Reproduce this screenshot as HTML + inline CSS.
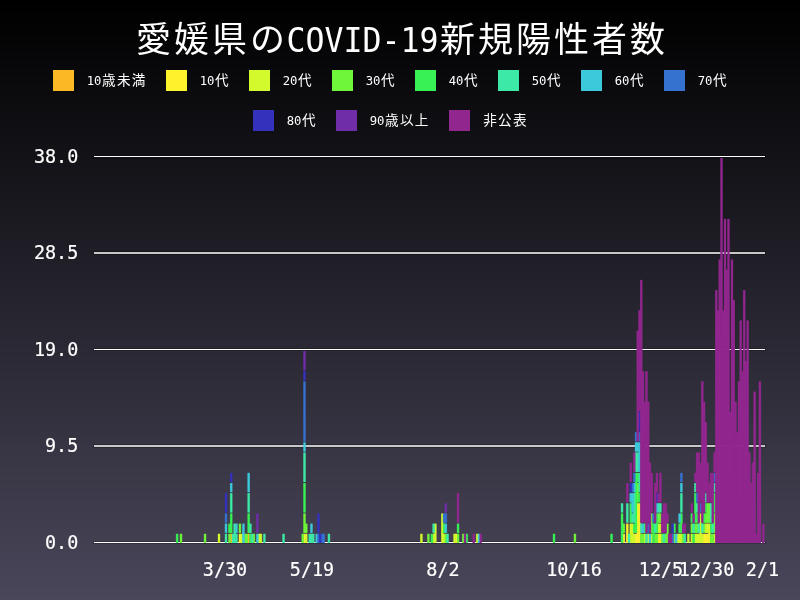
<!DOCTYPE html>
<html lang="ja"><head><meta charset="utf-8"><title>愛媛県のCOVID-19新規陽性者数</title>
<style>html,body{margin:0;padding:0;background:#000;overflow:hidden}svg{display:block}</style></head>
<body>
<svg width="800" height="600" viewBox="0 0 800 600">
<defs><linearGradient id="bg" x1="0" y1="0" x2="0" y2="1"><stop offset="0" stop-color="#000000"/><stop offset="1" stop-color="#4a465a"/></linearGradient></defs>
<rect width="800" height="600" fill="url(#bg)"/>
<g shape-rendering="crispEdges"><rect y="0" width="800" height="4" fill="#000000"/><rect y="4" width="800" height="1" fill="#000001"/><rect y="5" width="800" height="5" fill="#010101"/><rect y="10" width="800" height="3" fill="#010102"/><rect y="13" width="800" height="4" fill="#020202"/><rect y="17" width="800" height="4" fill="#020203"/><rect y="21" width="800" height="1" fill="#030203"/><rect y="22" width="800" height="2" fill="#030303"/><rect y="24" width="800" height="5" fill="#030304"/><rect y="29" width="800" height="1" fill="#040304"/><rect y="30" width="800" height="7" fill="#040405"/><rect y="37" width="800" height="2" fill="#050406"/><rect y="39" width="800" height="5" fill="#050506"/><rect y="44" width="800" height="1" fill="#050507"/><rect y="45" width="800" height="3" fill="#060507"/><rect y="48" width="800" height="2" fill="#060607"/><rect y="50" width="800" height="3" fill="#060608"/><rect y="53" width="800" height="3" fill="#070608"/><rect y="56" width="800" height="1" fill="#070708"/><rect y="57" width="800" height="4" fill="#070709"/><rect y="61" width="800" height="3" fill="#080709"/><rect y="64" width="800" height="1" fill="#08070a"/><rect y="65" width="800" height="4" fill="#08080a"/><rect y="69" width="800" height="1" fill="#09080a"/><rect y="70" width="800" height="3" fill="#09080b"/><rect y="73" width="800" height="4" fill="#09090b"/><rect y="77" width="800" height="5" fill="#0a090c"/><rect y="82" width="800" height="2" fill="#0a0a0c"/><rect y="84" width="800" height="1" fill="#0a0a0d"/><rect y="85" width="800" height="5" fill="#0b0a0d"/><rect y="90" width="800" height="4" fill="#0b0b0e"/><rect y="94" width="800" height="3" fill="#0c0b0e"/><rect y="97" width="800" height="2" fill="#0c0b0f"/><rect y="99" width="800" height="3" fill="#0c0c0f"/><rect y="102" width="800" height="2" fill="#0d0c0f"/><rect y="104" width="800" height="3" fill="#0d0c10"/><rect y="107" width="800" height="3" fill="#0d0d10"/><rect y="110" width="800" height="6" fill="#0e0d11"/><rect y="116" width="800" height="1" fill="#0e0e11"/><rect y="117" width="800" height="1" fill="#0e0e12"/><rect y="118" width="800" height="6" fill="#0f0e12"/><rect y="124" width="800" height="1" fill="#0f0e13"/><rect y="125" width="800" height="1" fill="#0f0f13"/><rect y="126" width="800" height="4" fill="#100f13"/><rect y="130" width="800" height="3" fill="#100f14"/><rect y="133" width="800" height="1" fill="#101014"/><rect y="134" width="800" height="3" fill="#111014"/><rect y="137" width="800" height="5" fill="#111015"/><rect y="142" width="800" height="2" fill="#121115"/><rect y="144" width="800" height="6" fill="#121116"/><rect y="150" width="800" height="7" fill="#131217"/><rect y="157" width="800" height="1" fill="#131218"/><rect y="158" width="800" height="1" fill="#141218"/><rect y="159" width="800" height="5" fill="#141318"/><rect y="164" width="800" height="2" fill="#141319"/><rect y="166" width="800" height="1" fill="#151319"/><rect y="167" width="800" height="3" fill="#151419"/><rect y="170" width="800" height="5" fill="#15141a"/><rect y="175" width="800" height="1" fill="#16141a"/><rect y="176" width="800" height="1" fill="#16151a"/><rect y="177" width="800" height="6" fill="#16151b"/><rect y="183" width="800" height="1" fill="#17151b"/><rect y="184" width="800" height="6" fill="#17161c"/><rect y="190" width="800" height="1" fill="#17161d"/><rect y="191" width="800" height="2" fill="#18161d"/><rect y="193" width="800" height="4" fill="#18171d"/><rect y="197" width="800" height="2" fill="#18171e"/><rect y="199" width="800" height="3" fill="#19171e"/><rect y="202" width="800" height="1" fill="#19181e"/><rect y="203" width="800" height="4" fill="#19181f"/><rect y="207" width="800" height="3" fill="#1a181f"/><rect y="210" width="800" height="5" fill="#1a1920"/><rect y="215" width="800" height="2" fill="#1b1920"/><rect y="217" width="800" height="2" fill="#1b1921"/><rect y="219" width="800" height="4" fill="#1b1a21"/><rect y="223" width="800" height="4" fill="#1c1a22"/><rect y="227" width="800" height="3" fill="#1c1b22"/><rect y="230" width="800" height="1" fill="#1c1b23"/><rect y="231" width="800" height="5" fill="#1d1b23"/><rect y="236" width="800" height="1" fill="#1d1c23"/><rect y="237" width="800" height="2" fill="#1d1c24"/><rect y="239" width="800" height="4" fill="#1e1c24"/><rect y="243" width="800" height="1" fill="#1e1c25"/><rect y="244" width="800" height="3" fill="#1e1d25"/><rect y="247" width="800" height="3" fill="#1f1d25"/><rect y="250" width="800" height="3" fill="#1f1d26"/><rect y="253" width="800" height="2" fill="#1f1e26"/><rect y="255" width="800" height="2" fill="#201e26"/><rect y="257" width="800" height="4" fill="#201e27"/><rect y="261" width="800" height="2" fill="#201f27"/><rect y="263" width="800" height="1" fill="#201f28"/><rect y="264" width="800" height="6" fill="#211f28"/><rect y="270" width="800" height="2" fill="#212029"/><rect y="272" width="800" height="5" fill="#222029"/><rect y="277" width="800" height="2" fill="#22202a"/><rect y="279" width="800" height="1" fill="#22212a"/><rect y="280" width="800" height="3" fill="#23212a"/><rect y="283" width="800" height="4" fill="#23212b"/><rect y="287" width="800" height="1" fill="#23222b"/><rect y="288" width="800" height="2" fill="#24222b"/><rect y="290" width="800" height="6" fill="#24222c"/><rect y="296" width="800" height="1" fill="#25232c"/><rect y="297" width="800" height="6" fill="#25232d"/><rect y="303" width="800" height="1" fill="#25232e"/><rect y="304" width="800" height="6" fill="#26242e"/><rect y="310" width="800" height="2" fill="#26242f"/><rect y="312" width="800" height="1" fill="#27242f"/><rect y="313" width="800" height="4" fill="#27252f"/><rect y="317" width="800" height="3" fill="#272530"/><rect y="320" width="800" height="1" fill="#282530"/><rect y="321" width="800" height="2" fill="#282630"/><rect y="323" width="800" height="5" fill="#282631"/><rect y="328" width="800" height="2" fill="#292631"/><rect y="330" width="800" height="6" fill="#292732"/><rect y="336" width="800" height="1" fill="#2a2732"/><rect y="337" width="800" height="2" fill="#2a2733"/><rect y="339" width="800" height="4" fill="#2a2833"/><rect y="343" width="800" height="2" fill="#2a2834"/><rect y="345" width="800" height="2" fill="#2b2834"/><rect y="347" width="800" height="3" fill="#2b2934"/><rect y="350" width="800" height="3" fill="#2b2935"/><rect y="353" width="800" height="3" fill="#2c2935"/><rect y="356" width="800" height="1" fill="#2c2a35"/><rect y="357" width="800" height="4" fill="#2c2a36"/><rect y="361" width="800" height="2" fill="#2d2a36"/><rect y="363" width="800" height="1" fill="#2d2a37"/><rect y="364" width="800" height="5" fill="#2d2b37"/><rect y="369" width="800" height="1" fill="#2e2b37"/><rect y="370" width="800" height="3" fill="#2e2b38"/><rect y="373" width="800" height="4" fill="#2e2c38"/><rect y="377" width="800" height="4" fill="#2f2c39"/><rect y="381" width="800" height="2" fill="#2f2d39"/><rect y="383" width="800" height="2" fill="#2f2d3a"/><rect y="385" width="800" height="5" fill="#302d3a"/><rect y="390" width="800" height="3" fill="#302e3b"/><rect y="393" width="800" height="4" fill="#312e3b"/><rect y="397" width="800" height="1" fill="#312e3c"/><rect y="398" width="800" height="3" fill="#312f3c"/><rect y="401" width="800" height="2" fill="#322f3c"/><rect y="403" width="800" height="4" fill="#322f3d"/><rect y="407" width="800" height="2" fill="#32303d"/><rect y="409" width="800" height="1" fill="#33303d"/><rect y="410" width="800" height="6" fill="#33303e"/><rect y="416" width="800" height="1" fill="#33313f"/><rect y="417" width="800" height="6" fill="#34313f"/><rect y="423" width="800" height="1" fill="#343140"/><rect y="424" width="800" height="1" fill="#343240"/><rect y="425" width="800" height="5" fill="#353240"/><rect y="430" width="800" height="3" fill="#353241"/><rect y="433" width="800" height="1" fill="#353341"/><rect y="434" width="800" height="2" fill="#363341"/><rect y="436" width="800" height="5" fill="#363342"/><rect y="441" width="800" height="1" fill="#363442"/><rect y="442" width="800" height="1" fill="#373442"/><rect y="443" width="800" height="7" fill="#373443"/><rect y="450" width="800" height="6" fill="#383544"/><rect y="456" width="800" height="2" fill="#383545"/><rect y="458" width="800" height="5" fill="#393645"/><rect y="463" width="800" height="3" fill="#393646"/><rect y="466" width="800" height="1" fill="#3a3646"/><rect y="467" width="800" height="3" fill="#3a3746"/><rect y="470" width="800" height="4" fill="#3a3747"/><rect y="474" width="800" height="1" fill="#3b3747"/><rect y="475" width="800" height="1" fill="#3b3847"/><rect y="476" width="800" height="6" fill="#3b3848"/><rect y="482" width="800" height="1" fill="#3c3848"/><rect y="483" width="800" height="1" fill="#3c3849"/><rect y="484" width="800" height="6" fill="#3c3949"/><rect y="490" width="800" height="3" fill="#3d394a"/><rect y="493" width="800" height="3" fill="#3d3a4a"/><rect y="496" width="800" height="2" fill="#3d3a4b"/><rect y="498" width="800" height="3" fill="#3e3a4b"/><rect y="501" width="800" height="2" fill="#3e3b4b"/><rect y="503" width="800" height="3" fill="#3e3b4c"/><rect y="506" width="800" height="4" fill="#3f3b4c"/><rect y="510" width="800" height="5" fill="#3f3c4d"/><rect y="515" width="800" height="1" fill="#403c4d"/><rect y="516" width="800" height="2" fill="#403c4e"/><rect y="518" width="800" height="5" fill="#403d4e"/><rect y="523" width="800" height="4" fill="#413d4f"/><rect y="527" width="800" height="3" fill="#413e4f"/><rect y="530" width="800" height="1" fill="#413e50"/><rect y="531" width="800" height="4" fill="#423e50"/><rect y="535" width="800" height="1" fill="#423f50"/><rect y="536" width="800" height="3" fill="#423f51"/><rect y="539" width="800" height="4" fill="#433f51"/><rect y="543" width="800" height="1" fill="#433f52"/><rect y="544" width="800" height="3" fill="#434052"/><rect y="547" width="800" height="3" fill="#444052"/><rect y="550" width="800" height="2" fill="#444053"/><rect y="552" width="800" height="3" fill="#444153"/><rect y="555" width="800" height="1" fill="#454153"/><rect y="556" width="800" height="5" fill="#454154"/><rect y="561" width="800" height="2" fill="#454254"/><rect y="563" width="800" height="7" fill="#464255"/><rect y="570" width="800" height="1" fill="#464356"/><rect y="571" width="800" height="5" fill="#474356"/><rect y="576" width="800" height="2" fill="#474357"/><rect y="578" width="800" height="1" fill="#474457"/><rect y="579" width="800" height="4" fill="#484457"/><rect y="583" width="800" height="4" fill="#484458"/><rect y="587" width="800" height="3" fill="#494558"/><rect y="590" width="800" height="5" fill="#494559"/><rect y="595" width="800" height="1" fill="#4a4659"/><rect y="596" width="800" height="4" fill="#4a465a"/></g>
<text x="136.02 174.02 212.02 250.02" y="52.00" font-family='"Noto Sans CJK JP","IPAGothic",sans-serif' font-size="34.96" font-weight="400" fill="#fff">愛媛県の</text>
<text x="286.50" y="52.00" font-family='"DejaVu Sans Mono","Liberation Mono",monospace' font-size="33.63" textLength="152.00" lengthAdjust="spacingAndGlyphs" fill="#fff">COVID-19</text>
<text x="440.02 478.02 516.02 554.02 592.02 630.02" y="52.00" font-family='"Noto Sans CJK JP","IPAGothic",sans-serif' font-size="34.96" font-weight="400" fill="#fff">新規陽性者数</text>
<rect x="53" y="70" width="21" height="21" fill="#FDB924"/><text x="86.70" y="84.60" font-family='"DejaVu Sans Mono","Liberation Mono",monospace' font-size="13.10" textLength="14.80" lengthAdjust="spacingAndGlyphs" fill="#fff">10</text>
<text x="102.09 116.89 131.69" y="84.60" font-family='"Noto Sans CJK JP","IPAGothic",sans-serif' font-size="13.62" font-weight="400" fill="#fff">歳未満</text>
<rect x="166" y="70" width="21" height="21" fill="#FEF22C"/><text x="199.70" y="84.60" font-family='"DejaVu Sans Mono","Liberation Mono",monospace' font-size="13.10" textLength="14.80" lengthAdjust="spacingAndGlyphs" fill="#fff">10</text>
<text x="215.09" y="84.60" font-family='"Noto Sans CJK JP","IPAGothic",sans-serif' font-size="13.62" font-weight="400" fill="#fff">代</text>
<rect x="249" y="70" width="21" height="21" fill="#D2FA2C"/><text x="282.70" y="84.60" font-family='"DejaVu Sans Mono","Liberation Mono",monospace' font-size="13.10" textLength="14.80" lengthAdjust="spacingAndGlyphs" fill="#fff">20</text>
<text x="298.09" y="84.60" font-family='"Noto Sans CJK JP","IPAGothic",sans-serif' font-size="13.62" font-weight="400" fill="#fff">代</text>
<rect x="332" y="70" width="21" height="21" fill="#6FF53A"/><text x="365.70" y="84.60" font-family='"DejaVu Sans Mono","Liberation Mono",monospace' font-size="13.10" textLength="14.80" lengthAdjust="spacingAndGlyphs" fill="#fff">30</text>
<text x="381.09" y="84.60" font-family='"Noto Sans CJK JP","IPAGothic",sans-serif' font-size="13.62" font-weight="400" fill="#fff">代</text>
<rect x="415" y="70" width="21" height="21" fill="#38F154"/><text x="448.70" y="84.60" font-family='"DejaVu Sans Mono","Liberation Mono",monospace' font-size="13.10" textLength="14.80" lengthAdjust="spacingAndGlyphs" fill="#fff">40</text>
<text x="464.09" y="84.60" font-family='"Noto Sans CJK JP","IPAGothic",sans-serif' font-size="13.62" font-weight="400" fill="#fff">代</text>
<rect x="498" y="70" width="21" height="21" fill="#3DE9A6"/><text x="531.70" y="84.60" font-family='"DejaVu Sans Mono","Liberation Mono",monospace' font-size="13.10" textLength="14.80" lengthAdjust="spacingAndGlyphs" fill="#fff">50</text>
<text x="547.09" y="84.60" font-family='"Noto Sans CJK JP","IPAGothic",sans-serif' font-size="13.62" font-weight="400" fill="#fff">代</text>
<rect x="581" y="70" width="21" height="21" fill="#3BC9DB"/><text x="614.70" y="84.60" font-family='"DejaVu Sans Mono","Liberation Mono",monospace' font-size="13.10" textLength="14.80" lengthAdjust="spacingAndGlyphs" fill="#fff">60</text>
<text x="630.09" y="84.60" font-family='"Noto Sans CJK JP","IPAGothic",sans-serif' font-size="13.62" font-weight="400" fill="#fff">代</text>
<rect x="664" y="70" width="21" height="21" fill="#3572CF"/><text x="697.70" y="84.60" font-family='"DejaVu Sans Mono","Liberation Mono",monospace' font-size="13.10" textLength="14.80" lengthAdjust="spacingAndGlyphs" fill="#fff">70</text>
<text x="713.09" y="84.60" font-family='"Noto Sans CJK JP","IPAGothic",sans-serif' font-size="13.62" font-weight="400" fill="#fff">代</text>
<rect x="253" y="110" width="21" height="21" fill="#3431BD"/><text x="286.70" y="124.60" font-family='"DejaVu Sans Mono","Liberation Mono",monospace' font-size="13.10" textLength="14.80" lengthAdjust="spacingAndGlyphs" fill="#fff">80</text>
<text x="302.09" y="124.60" font-family='"Noto Sans CJK JP","IPAGothic",sans-serif' font-size="13.62" font-weight="400" fill="#fff">代</text>
<rect x="336" y="110" width="21" height="21" fill="#6F2DA8"/><text x="369.70" y="124.60" font-family='"DejaVu Sans Mono","Liberation Mono",monospace' font-size="13.10" textLength="14.80" lengthAdjust="spacingAndGlyphs" fill="#fff">90</text>
<text x="385.09 399.89 414.69" y="124.60" font-family='"Noto Sans CJK JP","IPAGothic",sans-serif' font-size="13.62" font-weight="400" fill="#fff">歳以上</text>
<rect x="449" y="110" width="21" height="21" fill="#92268F"/><text x="483.29 498.09 512.89" y="124.60" font-family='"Noto Sans CJK JP","IPAGothic",sans-serif' font-size="13.62" font-weight="400" fill="#fff">非公表</text>
<rect x="93" y="541.00" width="673" height="3" fill="#000" fill-opacity="0.22"/>
<rect x="94" y="542.00" width="671" height="1" fill="#fff"/>
<text x="45.00" y="549.30" font-family='"DejaVu Sans Mono","Liberation Mono",monospace' font-size="19.65" textLength="33.30" lengthAdjust="spacingAndGlyphs" fill="#fff" stroke="#fff" stroke-width="0.2">0.0</text>
<rect x="93" y="444.00" width="673" height="4" fill="#000" fill-opacity="0.22"/>
<rect x="94" y="445.00" width="671" height="2" fill="#c8c8c8"/>
<text x="45.00" y="452.20" font-family='"DejaVu Sans Mono","Liberation Mono",monospace' font-size="19.65" textLength="33.30" lengthAdjust="spacingAndGlyphs" fill="#fff" stroke="#fff" stroke-width="0.2">9.5</text>
<rect x="93" y="348.00" width="673" height="3" fill="#000" fill-opacity="0.22"/>
<rect x="94" y="349.00" width="671" height="1" fill="#fff"/>
<text x="33.90" y="356.30" font-family='"DejaVu Sans Mono","Liberation Mono",monospace' font-size="19.65" textLength="44.40" lengthAdjust="spacingAndGlyphs" fill="#fff" stroke="#fff" stroke-width="0.2">19.0</text>
<rect x="93" y="251.00" width="673" height="4" fill="#000" fill-opacity="0.22"/>
<rect x="94" y="252.00" width="671" height="2" fill="#c8c8c8"/>
<text x="33.90" y="259.20" font-family='"DejaVu Sans Mono","Liberation Mono",monospace' font-size="19.65" textLength="44.40" lengthAdjust="spacingAndGlyphs" fill="#fff" stroke="#fff" stroke-width="0.2">28.5</text>
<rect x="93" y="155.00" width="673" height="3" fill="#000" fill-opacity="0.22"/>
<rect x="94" y="156.00" width="671" height="1" fill="#fff"/>
<text x="33.90" y="163.30" font-family='"DejaVu Sans Mono","Liberation Mono",monospace' font-size="19.65" textLength="44.40" lengthAdjust="spacingAndGlyphs" fill="#fff" stroke="#fff" stroke-width="0.2">38.0</text>
<g><rect x="229.88" y="533.84" width="2.67" height="9.16" fill="#FDB924" fill-opacity="0.5"/><rect x="230.23" y="533.84" width="1.97" height="9.16" fill="#FDB924"/><rect x="247.33" y="533.84" width="2.67" height="9.16" fill="#FDB924" fill-opacity="0.5"/><rect x="247.68" y="533.84" width="1.97" height="9.16" fill="#FDB924"/><rect x="238.60" y="533.84" width="2.67" height="9.16" fill="#FEF22C" fill-opacity="0.5"/><rect x="238.95" y="533.84" width="1.97" height="9.16" fill="#FEF22C"/><rect x="303.16" y="533.84" width="2.67" height="9.16" fill="#FEF22C" fill-opacity="0.5"/><rect x="303.51" y="533.84" width="1.97" height="9.16" fill="#FEF22C"/><rect x="454.96" y="533.84" width="2.67" height="9.16" fill="#FEF22C" fill-opacity="0.5"/><rect x="455.31" y="533.84" width="1.97" height="9.16" fill="#FEF22C"/><rect x="622.46" y="533.84" width="2.67" height="9.16" fill="#FEF22C" fill-opacity="0.5"/><rect x="622.81" y="533.84" width="1.97" height="9.16" fill="#FEF22C"/><rect x="625.95" y="523.68" width="2.67" height="19.32" fill="#FEF22C" fill-opacity="0.5"/><rect x="626.30" y="523.68" width="1.97" height="19.32" fill="#FEF22C"/><rect x="634.67" y="533.84" width="2.67" height="9.16" fill="#FEF22C" fill-opacity="0.5"/><rect x="635.02" y="533.84" width="1.97" height="9.16" fill="#FEF22C"/><rect x="636.42" y="503.37" width="2.67" height="39.63" fill="#FEF22C" fill-opacity="0.5"/><rect x="636.77" y="503.37" width="1.97" height="39.63" fill="#FEF22C"/><rect x="638.16" y="503.37" width="2.67" height="39.63" fill="#FEF22C" fill-opacity="0.5"/><rect x="638.51" y="503.37" width="1.97" height="39.63" fill="#FEF22C"/><rect x="657.35" y="533.84" width="2.67" height="9.16" fill="#FEF22C" fill-opacity="0.5"/><rect x="657.70" y="533.84" width="1.97" height="9.16" fill="#FEF22C"/><rect x="659.10" y="533.84" width="2.67" height="9.16" fill="#FEF22C" fill-opacity="0.5"/><rect x="659.45" y="533.84" width="1.97" height="9.16" fill="#FEF22C"/><rect x="702.72" y="533.84" width="2.67" height="9.16" fill="#FEF22C" fill-opacity="0.5"/><rect x="703.07" y="533.84" width="1.97" height="9.16" fill="#FEF22C"/><rect x="704.46" y="533.84" width="2.67" height="9.16" fill="#FEF22C" fill-opacity="0.5"/><rect x="704.81" y="533.84" width="1.97" height="9.16" fill="#FEF22C"/><rect x="706.21" y="533.84" width="2.67" height="9.16" fill="#FEF22C" fill-opacity="0.5"/><rect x="706.56" y="533.84" width="1.97" height="9.16" fill="#FEF22C"/><rect x="707.95" y="523.68" width="2.67" height="19.32" fill="#FEF22C" fill-opacity="0.5"/><rect x="708.30" y="523.68" width="1.97" height="19.32" fill="#FEF22C"/><rect x="217.67" y="533.84" width="2.67" height="9.16" fill="#D2FA2C" fill-opacity="0.5"/><rect x="218.02" y="533.84" width="1.97" height="9.16" fill="#D2FA2C"/><rect x="240.35" y="533.84" width="2.67" height="9.16" fill="#D2FA2C" fill-opacity="0.5"/><rect x="240.70" y="533.84" width="1.97" height="9.16" fill="#D2FA2C"/><rect x="257.80" y="533.84" width="2.67" height="9.16" fill="#D2FA2C" fill-opacity="0.5"/><rect x="258.15" y="533.84" width="1.97" height="9.16" fill="#D2FA2C"/><rect x="259.54" y="533.84" width="2.67" height="9.16" fill="#D2FA2C" fill-opacity="0.5"/><rect x="259.89" y="533.84" width="1.97" height="9.16" fill="#D2FA2C"/><rect x="304.91" y="533.84" width="2.67" height="9.16" fill="#D2FA2C" fill-opacity="0.5"/><rect x="305.26" y="533.84" width="1.97" height="9.16" fill="#D2FA2C"/><rect x="420.06" y="533.84" width="2.67" height="9.16" fill="#D2FA2C" fill-opacity="0.5"/><rect x="420.41" y="533.84" width="1.97" height="9.16" fill="#D2FA2C"/><rect x="432.28" y="533.84" width="2.67" height="9.16" fill="#D2FA2C" fill-opacity="0.5"/><rect x="432.63" y="533.84" width="1.97" height="9.16" fill="#D2FA2C"/><rect x="434.02" y="523.68" width="2.67" height="19.32" fill="#D2FA2C" fill-opacity="0.5"/><rect x="434.37" y="523.68" width="1.97" height="19.32" fill="#D2FA2C"/><rect x="441.00" y="513.53" width="2.67" height="29.47" fill="#D2FA2C" fill-opacity="0.5"/><rect x="441.35" y="513.53" width="1.97" height="29.47" fill="#D2FA2C"/><rect x="442.75" y="533.84" width="2.67" height="9.16" fill="#D2FA2C" fill-opacity="0.5"/><rect x="443.10" y="533.84" width="1.97" height="9.16" fill="#D2FA2C"/><rect x="453.21" y="533.84" width="2.67" height="9.16" fill="#D2FA2C" fill-opacity="0.5"/><rect x="453.56" y="533.84" width="1.97" height="9.16" fill="#D2FA2C"/><rect x="475.90" y="533.84" width="2.67" height="9.16" fill="#D2FA2C" fill-opacity="0.5"/><rect x="476.25" y="533.84" width="1.97" height="9.16" fill="#D2FA2C"/><rect x="629.44" y="523.68" width="2.67" height="19.32" fill="#D2FA2C" fill-opacity="0.5"/><rect x="629.79" y="523.68" width="1.97" height="19.32" fill="#D2FA2C"/><rect x="631.18" y="523.68" width="2.67" height="19.32" fill="#D2FA2C" fill-opacity="0.5"/><rect x="631.53" y="523.68" width="1.97" height="19.32" fill="#D2FA2C"/><rect x="632.93" y="533.84" width="2.67" height="9.16" fill="#D2FA2C" fill-opacity="0.5"/><rect x="633.28" y="533.84" width="1.97" height="9.16" fill="#D2FA2C"/><rect x="643.40" y="533.84" width="2.67" height="9.16" fill="#D2FA2C" fill-opacity="0.5"/><rect x="643.75" y="533.84" width="1.97" height="9.16" fill="#D2FA2C"/><rect x="646.89" y="533.84" width="2.67" height="9.16" fill="#D2FA2C" fill-opacity="0.5"/><rect x="647.24" y="533.84" width="1.97" height="9.16" fill="#D2FA2C"/><rect x="650.38" y="533.84" width="2.67" height="9.16" fill="#D2FA2C" fill-opacity="0.5"/><rect x="650.73" y="533.84" width="1.97" height="9.16" fill="#D2FA2C"/><rect x="657.35" y="523.68" width="2.67" height="9.16" fill="#D2FA2C" fill-opacity="0.5"/><rect x="657.70" y="523.68" width="1.97" height="9.16" fill="#D2FA2C"/><rect x="659.10" y="523.68" width="2.67" height="9.16" fill="#D2FA2C" fill-opacity="0.5"/><rect x="659.45" y="523.68" width="1.97" height="9.16" fill="#D2FA2C"/><rect x="676.55" y="533.84" width="2.67" height="9.16" fill="#D2FA2C" fill-opacity="0.5"/><rect x="676.90" y="533.84" width="1.97" height="9.16" fill="#D2FA2C"/><rect x="678.29" y="533.84" width="2.67" height="9.16" fill="#D2FA2C" fill-opacity="0.5"/><rect x="678.64" y="533.84" width="1.97" height="9.16" fill="#D2FA2C"/><rect x="680.04" y="533.84" width="2.67" height="9.16" fill="#D2FA2C" fill-opacity="0.5"/><rect x="680.39" y="533.84" width="1.97" height="9.16" fill="#D2FA2C"/><rect x="687.02" y="533.84" width="2.67" height="9.16" fill="#D2FA2C" fill-opacity="0.5"/><rect x="687.37" y="533.84" width="1.97" height="9.16" fill="#D2FA2C"/><rect x="690.51" y="533.84" width="2.67" height="9.16" fill="#D2FA2C" fill-opacity="0.5"/><rect x="690.86" y="533.84" width="1.97" height="9.16" fill="#D2FA2C"/><rect x="694.00" y="533.84" width="2.67" height="9.16" fill="#D2FA2C" fill-opacity="0.5"/><rect x="694.35" y="533.84" width="1.97" height="9.16" fill="#D2FA2C"/><rect x="695.74" y="533.84" width="2.67" height="9.16" fill="#D2FA2C" fill-opacity="0.5"/><rect x="696.09" y="533.84" width="1.97" height="9.16" fill="#D2FA2C"/><rect x="697.49" y="533.84" width="2.67" height="9.16" fill="#D2FA2C" fill-opacity="0.5"/><rect x="697.84" y="533.84" width="1.97" height="9.16" fill="#D2FA2C"/><rect x="699.23" y="513.53" width="2.67" height="29.47" fill="#D2FA2C" fill-opacity="0.5"/><rect x="699.58" y="513.53" width="1.97" height="29.47" fill="#D2FA2C"/><rect x="700.97" y="533.84" width="2.67" height="9.16" fill="#D2FA2C" fill-opacity="0.5"/><rect x="701.32" y="533.84" width="1.97" height="9.16" fill="#D2FA2C"/><rect x="704.46" y="523.68" width="2.67" height="9.16" fill="#D2FA2C" fill-opacity="0.5"/><rect x="704.81" y="523.68" width="1.97" height="9.16" fill="#D2FA2C"/><rect x="706.21" y="523.68" width="2.67" height="9.16" fill="#D2FA2C" fill-opacity="0.5"/><rect x="706.56" y="523.68" width="1.97" height="9.16" fill="#D2FA2C"/><rect x="713.19" y="533.84" width="2.67" height="9.16" fill="#D2FA2C" fill-opacity="0.5"/><rect x="713.54" y="533.84" width="1.97" height="9.16" fill="#D2FA2C"/><rect x="179.68" y="533.84" width="2.67" height="9.16" fill="#6FF53A" fill-opacity="0.5"/><rect x="180.03" y="533.84" width="1.97" height="9.16" fill="#6FF53A"/><rect x="203.71" y="533.84" width="2.67" height="9.16" fill="#6FF53A" fill-opacity="0.5"/><rect x="204.06" y="533.84" width="1.97" height="9.16" fill="#6FF53A"/><rect x="228.14" y="533.84" width="2.67" height="9.16" fill="#6FF53A" fill-opacity="0.5"/><rect x="228.49" y="533.84" width="1.97" height="9.16" fill="#6FF53A"/><rect x="238.60" y="523.68" width="2.67" height="9.16" fill="#6FF53A" fill-opacity="0.5"/><rect x="238.95" y="523.68" width="1.97" height="9.16" fill="#6FF53A"/><rect x="243.84" y="533.84" width="2.67" height="9.16" fill="#6FF53A" fill-opacity="0.5"/><rect x="244.19" y="533.84" width="1.97" height="9.16" fill="#6FF53A"/><rect x="245.58" y="533.84" width="2.67" height="9.16" fill="#6FF53A" fill-opacity="0.5"/><rect x="245.93" y="533.84" width="1.97" height="9.16" fill="#6FF53A"/><rect x="252.56" y="533.84" width="2.67" height="9.16" fill="#6FF53A" fill-opacity="0.5"/><rect x="252.91" y="533.84" width="1.97" height="9.16" fill="#6FF53A"/><rect x="301.42" y="533.84" width="2.67" height="9.16" fill="#6FF53A" fill-opacity="0.5"/><rect x="301.77" y="533.84" width="1.97" height="9.16" fill="#6FF53A"/><rect x="303.16" y="513.53" width="2.67" height="19.32" fill="#6FF53A" fill-opacity="0.5"/><rect x="303.51" y="513.53" width="1.97" height="19.32" fill="#6FF53A"/><rect x="304.91" y="523.68" width="2.67" height="9.16" fill="#6FF53A" fill-opacity="0.5"/><rect x="305.26" y="523.68" width="1.97" height="9.16" fill="#6FF53A"/><rect x="427.04" y="533.84" width="2.67" height="9.16" fill="#6FF53A" fill-opacity="0.5"/><rect x="427.39" y="533.84" width="1.97" height="9.16" fill="#6FF53A"/><rect x="444.49" y="533.84" width="2.67" height="9.16" fill="#6FF53A" fill-opacity="0.5"/><rect x="444.84" y="533.84" width="1.97" height="9.16" fill="#6FF53A"/><rect x="456.70" y="533.84" width="2.67" height="9.16" fill="#6FF53A" fill-opacity="0.5"/><rect x="457.05" y="533.84" width="1.97" height="9.16" fill="#6FF53A"/><rect x="461.94" y="533.84" width="2.67" height="9.16" fill="#6FF53A" fill-opacity="0.5"/><rect x="462.29" y="533.84" width="1.97" height="9.16" fill="#6FF53A"/><rect x="573.60" y="533.84" width="2.67" height="9.16" fill="#6FF53A" fill-opacity="0.5"/><rect x="573.95" y="533.84" width="1.97" height="9.16" fill="#6FF53A"/><rect x="622.46" y="523.68" width="2.67" height="9.16" fill="#6FF53A" fill-opacity="0.5"/><rect x="622.81" y="523.68" width="1.97" height="9.16" fill="#6FF53A"/><rect x="636.42" y="483.05" width="2.67" height="19.32" fill="#6FF53A" fill-opacity="0.5"/><rect x="636.77" y="483.05" width="1.97" height="19.32" fill="#6FF53A"/><rect x="639.91" y="533.84" width="2.67" height="9.16" fill="#6FF53A" fill-opacity="0.5"/><rect x="640.26" y="533.84" width="1.97" height="9.16" fill="#6FF53A"/><rect x="641.65" y="533.84" width="2.67" height="9.16" fill="#6FF53A" fill-opacity="0.5"/><rect x="642.00" y="533.84" width="1.97" height="9.16" fill="#6FF53A"/><rect x="650.38" y="513.53" width="2.67" height="19.32" fill="#6FF53A" fill-opacity="0.5"/><rect x="650.73" y="513.53" width="1.97" height="19.32" fill="#6FF53A"/><rect x="653.87" y="533.84" width="2.67" height="9.16" fill="#6FF53A" fill-opacity="0.5"/><rect x="654.22" y="533.84" width="1.97" height="9.16" fill="#6FF53A"/><rect x="655.61" y="533.84" width="2.67" height="9.16" fill="#6FF53A" fill-opacity="0.5"/><rect x="655.96" y="533.84" width="1.97" height="9.16" fill="#6FF53A"/><rect x="657.35" y="513.53" width="2.67" height="9.16" fill="#6FF53A" fill-opacity="0.5"/><rect x="657.70" y="513.53" width="1.97" height="9.16" fill="#6FF53A"/><rect x="659.10" y="513.53" width="2.67" height="9.16" fill="#6FF53A" fill-opacity="0.5"/><rect x="659.45" y="513.53" width="1.97" height="9.16" fill="#6FF53A"/><rect x="660.84" y="533.84" width="2.67" height="9.16" fill="#6FF53A" fill-opacity="0.5"/><rect x="661.19" y="533.84" width="1.97" height="9.16" fill="#6FF53A"/><rect x="664.33" y="533.84" width="2.67" height="9.16" fill="#6FF53A" fill-opacity="0.5"/><rect x="664.68" y="533.84" width="1.97" height="9.16" fill="#6FF53A"/><rect x="666.08" y="523.68" width="2.67" height="19.32" fill="#6FF53A" fill-opacity="0.5"/><rect x="666.43" y="523.68" width="1.97" height="19.32" fill="#6FF53A"/><rect x="673.06" y="533.84" width="2.67" height="9.16" fill="#6FF53A" fill-opacity="0.5"/><rect x="673.41" y="533.84" width="1.97" height="9.16" fill="#6FF53A"/><rect x="681.78" y="533.84" width="2.67" height="9.16" fill="#6FF53A" fill-opacity="0.5"/><rect x="682.13" y="533.84" width="1.97" height="9.16" fill="#6FF53A"/><rect x="690.51" y="523.68" width="2.67" height="9.16" fill="#6FF53A" fill-opacity="0.5"/><rect x="690.86" y="523.68" width="1.97" height="9.16" fill="#6FF53A"/><rect x="694.00" y="523.68" width="2.67" height="9.16" fill="#6FF53A" fill-opacity="0.5"/><rect x="694.35" y="523.68" width="1.97" height="9.16" fill="#6FF53A"/><rect x="695.74" y="523.68" width="2.67" height="9.16" fill="#6FF53A" fill-opacity="0.5"/><rect x="696.09" y="523.68" width="1.97" height="9.16" fill="#6FF53A"/><rect x="702.72" y="523.68" width="2.67" height="9.16" fill="#6FF53A" fill-opacity="0.5"/><rect x="703.07" y="523.68" width="1.97" height="9.16" fill="#6FF53A"/><rect x="704.46" y="513.53" width="2.67" height="9.16" fill="#6FF53A" fill-opacity="0.5"/><rect x="704.81" y="513.53" width="1.97" height="9.16" fill="#6FF53A"/><rect x="706.21" y="503.37" width="2.67" height="19.32" fill="#6FF53A" fill-opacity="0.5"/><rect x="706.56" y="503.37" width="1.97" height="19.32" fill="#6FF53A"/><rect x="707.95" y="503.37" width="2.67" height="19.32" fill="#6FF53A" fill-opacity="0.5"/><rect x="708.30" y="503.37" width="1.97" height="19.32" fill="#6FF53A"/><rect x="709.70" y="533.84" width="2.67" height="9.16" fill="#6FF53A" fill-opacity="0.5"/><rect x="710.05" y="533.84" width="1.97" height="9.16" fill="#6FF53A"/><rect x="711.44" y="533.84" width="2.67" height="9.16" fill="#6FF53A" fill-opacity="0.5"/><rect x="711.79" y="533.84" width="1.97" height="9.16" fill="#6FF53A"/><rect x="713.19" y="513.53" width="2.67" height="19.32" fill="#6FF53A" fill-opacity="0.5"/><rect x="713.54" y="513.53" width="1.97" height="19.32" fill="#6FF53A"/><rect x="175.79" y="533.84" width="2.67" height="9.16" fill="#38F154" fill-opacity="0.5"/><rect x="176.14" y="533.84" width="1.97" height="9.16" fill="#38F154"/><rect x="228.14" y="523.68" width="2.67" height="9.16" fill="#38F154" fill-opacity="0.5"/><rect x="228.49" y="523.68" width="1.97" height="9.16" fill="#38F154"/><rect x="229.88" y="513.53" width="2.67" height="19.32" fill="#38F154" fill-opacity="0.5"/><rect x="230.23" y="513.53" width="1.97" height="19.32" fill="#38F154"/><rect x="247.33" y="513.53" width="2.67" height="19.32" fill="#38F154" fill-opacity="0.5"/><rect x="247.68" y="513.53" width="1.97" height="19.32" fill="#38F154"/><rect x="249.07" y="533.84" width="2.67" height="9.16" fill="#38F154" fill-opacity="0.5"/><rect x="249.42" y="533.84" width="1.97" height="9.16" fill="#38F154"/><rect x="303.16" y="483.05" width="2.67" height="29.47" fill="#38F154" fill-opacity="0.5"/><rect x="303.51" y="483.05" width="1.97" height="29.47" fill="#38F154"/><rect x="430.53" y="533.84" width="2.67" height="9.16" fill="#38F154" fill-opacity="0.5"/><rect x="430.88" y="533.84" width="1.97" height="9.16" fill="#38F154"/><rect x="442.75" y="523.68" width="2.67" height="9.16" fill="#38F154" fill-opacity="0.5"/><rect x="443.10" y="523.68" width="1.97" height="9.16" fill="#38F154"/><rect x="456.70" y="523.68" width="2.67" height="9.16" fill="#38F154" fill-opacity="0.5"/><rect x="457.05" y="523.68" width="1.97" height="9.16" fill="#38F154"/><rect x="465.43" y="533.84" width="2.67" height="9.16" fill="#38F154" fill-opacity="0.5"/><rect x="465.78" y="533.84" width="1.97" height="9.16" fill="#38F154"/><rect x="552.67" y="533.84" width="2.67" height="9.16" fill="#38F154" fill-opacity="0.5"/><rect x="553.02" y="533.84" width="1.97" height="9.16" fill="#38F154"/><rect x="610.25" y="533.84" width="2.67" height="9.16" fill="#38F154" fill-opacity="0.5"/><rect x="610.60" y="533.84" width="1.97" height="9.16" fill="#38F154"/><rect x="620.71" y="513.53" width="2.67" height="29.47" fill="#38F154" fill-opacity="0.5"/><rect x="621.06" y="513.53" width="1.97" height="29.47" fill="#38F154"/><rect x="629.44" y="503.37" width="2.67" height="19.32" fill="#38F154" fill-opacity="0.5"/><rect x="629.79" y="503.37" width="1.97" height="19.32" fill="#38F154"/><rect x="632.93" y="523.68" width="2.67" height="9.16" fill="#38F154" fill-opacity="0.5"/><rect x="633.28" y="523.68" width="1.97" height="9.16" fill="#38F154"/><rect x="634.67" y="472.89" width="2.67" height="59.95" fill="#38F154" fill-opacity="0.5"/><rect x="635.02" y="472.89" width="1.97" height="59.95" fill="#38F154"/><rect x="636.42" y="472.89" width="2.67" height="9.16" fill="#38F154" fill-opacity="0.5"/><rect x="636.77" y="472.89" width="1.97" height="9.16" fill="#38F154"/><rect x="638.16" y="493.21" width="2.67" height="9.16" fill="#38F154" fill-opacity="0.5"/><rect x="638.51" y="493.21" width="1.97" height="9.16" fill="#38F154"/><rect x="643.40" y="523.68" width="2.67" height="9.16" fill="#38F154" fill-opacity="0.5"/><rect x="643.75" y="523.68" width="1.97" height="9.16" fill="#38F154"/><rect x="652.12" y="523.68" width="2.67" height="19.32" fill="#38F154" fill-opacity="0.5"/><rect x="652.47" y="523.68" width="1.97" height="19.32" fill="#38F154"/><rect x="655.61" y="513.53" width="2.67" height="19.32" fill="#38F154" fill-opacity="0.5"/><rect x="655.96" y="513.53" width="1.97" height="19.32" fill="#38F154"/><rect x="673.06" y="523.68" width="2.67" height="9.16" fill="#38F154" fill-opacity="0.5"/><rect x="673.41" y="523.68" width="1.97" height="9.16" fill="#38F154"/><rect x="678.29" y="523.68" width="2.67" height="9.16" fill="#38F154" fill-opacity="0.5"/><rect x="678.64" y="523.68" width="1.97" height="9.16" fill="#38F154"/><rect x="680.04" y="513.53" width="2.67" height="19.32" fill="#38F154" fill-opacity="0.5"/><rect x="680.39" y="513.53" width="1.97" height="19.32" fill="#38F154"/><rect x="690.51" y="513.53" width="2.67" height="9.16" fill="#38F154" fill-opacity="0.5"/><rect x="690.86" y="513.53" width="1.97" height="9.16" fill="#38F154"/><rect x="692.25" y="533.84" width="2.67" height="9.16" fill="#38F154" fill-opacity="0.5"/><rect x="692.60" y="533.84" width="1.97" height="9.16" fill="#38F154"/><rect x="694.00" y="493.21" width="2.67" height="29.47" fill="#38F154" fill-opacity="0.5"/><rect x="694.35" y="493.21" width="1.97" height="29.47" fill="#38F154"/><rect x="695.74" y="513.53" width="2.67" height="9.16" fill="#38F154" fill-opacity="0.5"/><rect x="696.09" y="513.53" width="1.97" height="9.16" fill="#38F154"/><rect x="702.72" y="513.53" width="2.67" height="9.16" fill="#38F154" fill-opacity="0.5"/><rect x="703.07" y="513.53" width="1.97" height="9.16" fill="#38F154"/><rect x="704.46" y="503.37" width="2.67" height="9.16" fill="#38F154" fill-opacity="0.5"/><rect x="704.81" y="503.37" width="1.97" height="9.16" fill="#38F154"/><rect x="709.70" y="523.68" width="2.67" height="9.16" fill="#38F154" fill-opacity="0.5"/><rect x="710.05" y="523.68" width="1.97" height="9.16" fill="#38F154"/><rect x="713.19" y="493.21" width="2.67" height="19.32" fill="#38F154" fill-opacity="0.5"/><rect x="713.54" y="493.21" width="1.97" height="19.32" fill="#38F154"/><rect x="224.65" y="533.84" width="2.67" height="9.16" fill="#3DE9A6" fill-opacity="0.5"/><rect x="225.00" y="533.84" width="1.97" height="9.16" fill="#3DE9A6"/><rect x="229.88" y="493.21" width="2.67" height="19.32" fill="#3DE9A6" fill-opacity="0.5"/><rect x="230.23" y="493.21" width="1.97" height="19.32" fill="#3DE9A6"/><rect x="231.63" y="533.84" width="2.67" height="9.16" fill="#3DE9A6" fill-opacity="0.5"/><rect x="231.98" y="533.84" width="1.97" height="9.16" fill="#3DE9A6"/><rect x="233.37" y="523.68" width="2.67" height="19.32" fill="#3DE9A6" fill-opacity="0.5"/><rect x="233.72" y="523.68" width="1.97" height="19.32" fill="#3DE9A6"/><rect x="235.12" y="533.84" width="2.67" height="9.16" fill="#3DE9A6" fill-opacity="0.5"/><rect x="235.47" y="533.84" width="1.97" height="9.16" fill="#3DE9A6"/><rect x="247.33" y="493.21" width="2.67" height="19.32" fill="#3DE9A6" fill-opacity="0.5"/><rect x="247.68" y="493.21" width="1.97" height="19.32" fill="#3DE9A6"/><rect x="249.07" y="523.68" width="2.67" height="9.16" fill="#3DE9A6" fill-opacity="0.5"/><rect x="249.42" y="523.68" width="1.97" height="9.16" fill="#3DE9A6"/><rect x="250.82" y="533.84" width="2.67" height="9.16" fill="#3DE9A6" fill-opacity="0.5"/><rect x="251.17" y="533.84" width="1.97" height="9.16" fill="#3DE9A6"/><rect x="263.03" y="533.84" width="2.67" height="9.16" fill="#3DE9A6" fill-opacity="0.5"/><rect x="263.38" y="533.84" width="1.97" height="9.16" fill="#3DE9A6"/><rect x="282.22" y="533.84" width="2.67" height="9.16" fill="#3DE9A6" fill-opacity="0.5"/><rect x="282.57" y="533.84" width="1.97" height="9.16" fill="#3DE9A6"/><rect x="303.16" y="452.58" width="2.67" height="29.47" fill="#3DE9A6" fill-opacity="0.5"/><rect x="303.51" y="452.58" width="1.97" height="29.47" fill="#3DE9A6"/><rect x="308.40" y="533.84" width="2.67" height="9.16" fill="#3DE9A6" fill-opacity="0.5"/><rect x="308.75" y="533.84" width="1.97" height="9.16" fill="#3DE9A6"/><rect x="310.14" y="533.84" width="2.67" height="9.16" fill="#3DE9A6" fill-opacity="0.5"/><rect x="310.49" y="533.84" width="1.97" height="9.16" fill="#3DE9A6"/><rect x="311.89" y="533.84" width="2.67" height="9.16" fill="#3DE9A6" fill-opacity="0.5"/><rect x="312.24" y="533.84" width="1.97" height="9.16" fill="#3DE9A6"/><rect x="327.59" y="533.84" width="2.67" height="9.16" fill="#3DE9A6" fill-opacity="0.5"/><rect x="327.94" y="533.84" width="1.97" height="9.16" fill="#3DE9A6"/><rect x="432.28" y="523.68" width="2.67" height="9.16" fill="#3DE9A6" fill-opacity="0.5"/><rect x="432.63" y="523.68" width="1.97" height="9.16" fill="#3DE9A6"/><rect x="446.24" y="533.84" width="2.67" height="9.16" fill="#3DE9A6" fill-opacity="0.5"/><rect x="446.59" y="533.84" width="1.97" height="9.16" fill="#3DE9A6"/><rect x="620.71" y="503.37" width="2.67" height="9.16" fill="#3DE9A6" fill-opacity="0.5"/><rect x="621.06" y="503.37" width="1.97" height="9.16" fill="#3DE9A6"/><rect x="625.95" y="503.37" width="2.67" height="19.32" fill="#3DE9A6" fill-opacity="0.5"/><rect x="626.30" y="503.37" width="1.97" height="19.32" fill="#3DE9A6"/><rect x="627.69" y="533.84" width="2.67" height="9.16" fill="#3DE9A6" fill-opacity="0.5"/><rect x="628.04" y="533.84" width="1.97" height="9.16" fill="#3DE9A6"/><rect x="631.18" y="513.53" width="2.67" height="9.16" fill="#3DE9A6" fill-opacity="0.5"/><rect x="631.53" y="513.53" width="1.97" height="9.16" fill="#3DE9A6"/><rect x="632.93" y="493.21" width="2.67" height="29.47" fill="#3DE9A6" fill-opacity="0.5"/><rect x="633.28" y="493.21" width="1.97" height="29.47" fill="#3DE9A6"/><rect x="634.67" y="452.58" width="2.67" height="19.32" fill="#3DE9A6" fill-opacity="0.5"/><rect x="635.02" y="452.58" width="1.97" height="19.32" fill="#3DE9A6"/><rect x="636.42" y="452.58" width="2.67" height="19.32" fill="#3DE9A6" fill-opacity="0.5"/><rect x="636.77" y="452.58" width="1.97" height="19.32" fill="#3DE9A6"/><rect x="638.16" y="472.89" width="2.67" height="19.32" fill="#3DE9A6" fill-opacity="0.5"/><rect x="638.51" y="472.89" width="1.97" height="19.32" fill="#3DE9A6"/><rect x="639.91" y="523.68" width="2.67" height="9.16" fill="#3DE9A6" fill-opacity="0.5"/><rect x="640.26" y="523.68" width="1.97" height="9.16" fill="#3DE9A6"/><rect x="645.14" y="533.84" width="2.67" height="9.16" fill="#3DE9A6" fill-opacity="0.5"/><rect x="645.49" y="533.84" width="1.97" height="9.16" fill="#3DE9A6"/><rect x="653.87" y="523.68" width="2.67" height="9.16" fill="#3DE9A6" fill-opacity="0.5"/><rect x="654.22" y="523.68" width="1.97" height="9.16" fill="#3DE9A6"/><rect x="657.35" y="503.37" width="2.67" height="9.16" fill="#3DE9A6" fill-opacity="0.5"/><rect x="657.70" y="503.37" width="1.97" height="9.16" fill="#3DE9A6"/><rect x="659.10" y="503.37" width="2.67" height="9.16" fill="#3DE9A6" fill-opacity="0.5"/><rect x="659.45" y="503.37" width="1.97" height="9.16" fill="#3DE9A6"/><rect x="662.59" y="533.84" width="2.67" height="9.16" fill="#3DE9A6" fill-opacity="0.5"/><rect x="662.94" y="533.84" width="1.97" height="9.16" fill="#3DE9A6"/><rect x="680.04" y="493.21" width="2.67" height="19.32" fill="#3DE9A6" fill-opacity="0.5"/><rect x="680.39" y="493.21" width="1.97" height="19.32" fill="#3DE9A6"/><rect x="683.53" y="533.84" width="2.67" height="9.16" fill="#3DE9A6" fill-opacity="0.5"/><rect x="683.88" y="533.84" width="1.97" height="9.16" fill="#3DE9A6"/><rect x="692.25" y="523.68" width="2.67" height="9.16" fill="#3DE9A6" fill-opacity="0.5"/><rect x="692.60" y="523.68" width="1.97" height="9.16" fill="#3DE9A6"/><rect x="694.00" y="483.05" width="2.67" height="9.16" fill="#3DE9A6" fill-opacity="0.5"/><rect x="694.35" y="483.05" width="1.97" height="9.16" fill="#3DE9A6"/><rect x="695.74" y="503.37" width="2.67" height="9.16" fill="#3DE9A6" fill-opacity="0.5"/><rect x="696.09" y="503.37" width="1.97" height="9.16" fill="#3DE9A6"/><rect x="697.49" y="523.68" width="2.67" height="9.16" fill="#3DE9A6" fill-opacity="0.5"/><rect x="697.84" y="523.68" width="1.97" height="9.16" fill="#3DE9A6"/><rect x="700.97" y="523.68" width="2.67" height="9.16" fill="#3DE9A6" fill-opacity="0.5"/><rect x="701.32" y="523.68" width="1.97" height="9.16" fill="#3DE9A6"/><rect x="704.46" y="493.21" width="2.67" height="9.16" fill="#3DE9A6" fill-opacity="0.5"/><rect x="704.81" y="493.21" width="1.97" height="9.16" fill="#3DE9A6"/><rect x="709.70" y="503.37" width="2.67" height="19.32" fill="#3DE9A6" fill-opacity="0.5"/><rect x="710.05" y="503.37" width="1.97" height="19.32" fill="#3DE9A6"/><rect x="711.44" y="523.68" width="2.67" height="9.16" fill="#3DE9A6" fill-opacity="0.5"/><rect x="711.79" y="523.68" width="1.97" height="9.16" fill="#3DE9A6"/><rect x="713.19" y="483.05" width="2.67" height="9.16" fill="#3DE9A6" fill-opacity="0.5"/><rect x="713.54" y="483.05" width="1.97" height="9.16" fill="#3DE9A6"/><rect x="224.65" y="523.68" width="2.67" height="9.16" fill="#3BC9DB" fill-opacity="0.5"/><rect x="225.00" y="523.68" width="1.97" height="9.16" fill="#3BC9DB"/><rect x="229.88" y="483.05" width="2.67" height="9.16" fill="#3BC9DB" fill-opacity="0.5"/><rect x="230.23" y="483.05" width="1.97" height="9.16" fill="#3BC9DB"/><rect x="235.12" y="523.68" width="2.67" height="9.16" fill="#3BC9DB" fill-opacity="0.5"/><rect x="235.47" y="523.68" width="1.97" height="9.16" fill="#3BC9DB"/><rect x="242.09" y="523.68" width="2.67" height="19.32" fill="#3BC9DB" fill-opacity="0.5"/><rect x="242.44" y="523.68" width="1.97" height="19.32" fill="#3BC9DB"/><rect x="247.33" y="472.89" width="2.67" height="19.32" fill="#3BC9DB" fill-opacity="0.5"/><rect x="247.68" y="472.89" width="1.97" height="19.32" fill="#3BC9DB"/><rect x="256.05" y="533.84" width="2.67" height="9.16" fill="#3BC9DB" fill-opacity="0.5"/><rect x="256.40" y="533.84" width="1.97" height="9.16" fill="#3BC9DB"/><rect x="303.16" y="442.42" width="2.67" height="9.16" fill="#3BC9DB" fill-opacity="0.5"/><rect x="303.51" y="442.42" width="1.97" height="9.16" fill="#3BC9DB"/><rect x="310.14" y="523.68" width="2.67" height="9.16" fill="#3BC9DB" fill-opacity="0.5"/><rect x="310.49" y="523.68" width="1.97" height="9.16" fill="#3BC9DB"/><rect x="315.38" y="533.84" width="2.67" height="9.16" fill="#3BC9DB" fill-opacity="0.5"/><rect x="315.73" y="533.84" width="1.97" height="9.16" fill="#3BC9DB"/><rect x="444.49" y="523.68" width="2.67" height="9.16" fill="#3BC9DB" fill-opacity="0.5"/><rect x="444.84" y="523.68" width="1.97" height="9.16" fill="#3BC9DB"/><rect x="477.64" y="533.84" width="2.67" height="9.16" fill="#3BC9DB" fill-opacity="0.5"/><rect x="477.99" y="533.84" width="1.97" height="9.16" fill="#3BC9DB"/><rect x="629.44" y="493.21" width="2.67" height="9.16" fill="#3BC9DB" fill-opacity="0.5"/><rect x="629.79" y="493.21" width="1.97" height="9.16" fill="#3BC9DB"/><rect x="631.18" y="493.21" width="2.67" height="19.32" fill="#3BC9DB" fill-opacity="0.5"/><rect x="631.53" y="493.21" width="1.97" height="19.32" fill="#3BC9DB"/><rect x="632.93" y="483.05" width="2.67" height="9.16" fill="#3BC9DB" fill-opacity="0.5"/><rect x="633.28" y="483.05" width="1.97" height="9.16" fill="#3BC9DB"/><rect x="634.67" y="442.42" width="2.67" height="9.16" fill="#3BC9DB" fill-opacity="0.5"/><rect x="635.02" y="442.42" width="1.97" height="9.16" fill="#3BC9DB"/><rect x="636.42" y="442.42" width="2.67" height="9.16" fill="#3BC9DB" fill-opacity="0.5"/><rect x="636.77" y="442.42" width="1.97" height="9.16" fill="#3BC9DB"/><rect x="638.16" y="442.42" width="2.67" height="29.47" fill="#3BC9DB" fill-opacity="0.5"/><rect x="638.51" y="442.42" width="1.97" height="29.47" fill="#3BC9DB"/><rect x="641.65" y="523.68" width="2.67" height="9.16" fill="#3BC9DB" fill-opacity="0.5"/><rect x="642.00" y="523.68" width="1.97" height="9.16" fill="#3BC9DB"/><rect x="648.63" y="533.84" width="2.67" height="9.16" fill="#3BC9DB" fill-opacity="0.5"/><rect x="648.98" y="533.84" width="1.97" height="9.16" fill="#3BC9DB"/><rect x="655.61" y="503.37" width="2.67" height="9.16" fill="#3BC9DB" fill-opacity="0.5"/><rect x="655.96" y="503.37" width="1.97" height="9.16" fill="#3BC9DB"/><rect x="674.80" y="533.84" width="2.67" height="9.16" fill="#3BC9DB" fill-opacity="0.5"/><rect x="675.15" y="533.84" width="1.97" height="9.16" fill="#3BC9DB"/><rect x="678.29" y="513.53" width="2.67" height="9.16" fill="#3BC9DB" fill-opacity="0.5"/><rect x="678.64" y="513.53" width="1.97" height="9.16" fill="#3BC9DB"/><rect x="680.04" y="483.05" width="2.67" height="9.16" fill="#3BC9DB" fill-opacity="0.5"/><rect x="680.39" y="483.05" width="1.97" height="9.16" fill="#3BC9DB"/><rect x="224.65" y="513.53" width="2.67" height="9.16" fill="#3572CF" fill-opacity="0.5"/><rect x="225.00" y="513.53" width="1.97" height="9.16" fill="#3572CF"/><rect x="303.16" y="381.47" width="2.67" height="59.95" fill="#3572CF" fill-opacity="0.5"/><rect x="303.51" y="381.47" width="1.97" height="59.95" fill="#3572CF"/><rect x="317.12" y="533.84" width="2.67" height="9.16" fill="#3572CF" fill-opacity="0.5"/><rect x="317.47" y="533.84" width="1.97" height="9.16" fill="#3572CF"/><rect x="320.61" y="533.84" width="2.67" height="9.16" fill="#3572CF" fill-opacity="0.5"/><rect x="320.96" y="533.84" width="1.97" height="9.16" fill="#3572CF"/><rect x="322.35" y="533.84" width="2.67" height="9.16" fill="#3572CF" fill-opacity="0.5"/><rect x="322.70" y="533.84" width="1.97" height="9.16" fill="#3572CF"/><rect x="442.75" y="513.53" width="2.67" height="9.16" fill="#3572CF" fill-opacity="0.5"/><rect x="443.10" y="513.53" width="1.97" height="9.16" fill="#3572CF"/><rect x="444.49" y="513.53" width="2.67" height="9.16" fill="#3572CF" fill-opacity="0.5"/><rect x="444.84" y="513.53" width="1.97" height="9.16" fill="#3572CF"/><rect x="631.18" y="483.05" width="2.67" height="9.16" fill="#3572CF" fill-opacity="0.5"/><rect x="631.53" y="483.05" width="1.97" height="9.16" fill="#3572CF"/><rect x="632.93" y="472.89" width="2.67" height="9.16" fill="#3572CF" fill-opacity="0.5"/><rect x="633.28" y="472.89" width="1.97" height="9.16" fill="#3572CF"/><rect x="634.67" y="432.26" width="2.67" height="9.16" fill="#3572CF" fill-opacity="0.5"/><rect x="635.02" y="432.26" width="1.97" height="9.16" fill="#3572CF"/><rect x="638.16" y="432.26" width="2.67" height="9.16" fill="#3572CF" fill-opacity="0.5"/><rect x="638.51" y="432.26" width="1.97" height="9.16" fill="#3572CF"/><rect x="646.89" y="523.68" width="2.67" height="9.16" fill="#3572CF" fill-opacity="0.5"/><rect x="647.24" y="523.68" width="1.97" height="9.16" fill="#3572CF"/><rect x="652.12" y="513.53" width="2.67" height="9.16" fill="#3572CF" fill-opacity="0.5"/><rect x="652.47" y="513.53" width="1.97" height="9.16" fill="#3572CF"/><rect x="671.31" y="533.84" width="2.67" height="9.16" fill="#3572CF" fill-opacity="0.5"/><rect x="671.66" y="533.84" width="1.97" height="9.16" fill="#3572CF"/><rect x="680.04" y="472.89" width="2.67" height="9.16" fill="#3572CF" fill-opacity="0.5"/><rect x="680.39" y="472.89" width="1.97" height="9.16" fill="#3572CF"/><rect x="695.74" y="493.21" width="2.67" height="9.16" fill="#3572CF" fill-opacity="0.5"/><rect x="696.09" y="493.21" width="1.97" height="9.16" fill="#3572CF"/><rect x="699.23" y="503.37" width="2.67" height="9.16" fill="#3572CF" fill-opacity="0.5"/><rect x="699.58" y="503.37" width="1.97" height="9.16" fill="#3572CF"/><rect x="713.19" y="472.89" width="2.67" height="9.16" fill="#3572CF" fill-opacity="0.5"/><rect x="713.54" y="472.89" width="1.97" height="9.16" fill="#3572CF"/><rect x="224.65" y="493.21" width="2.67" height="19.32" fill="#3431BD" fill-opacity="0.5"/><rect x="225.00" y="493.21" width="1.97" height="19.32" fill="#3431BD"/><rect x="229.88" y="472.89" width="2.67" height="9.16" fill="#3431BD" fill-opacity="0.5"/><rect x="230.23" y="472.89" width="1.97" height="9.16" fill="#3431BD"/><rect x="303.16" y="371.32" width="2.67" height="9.16" fill="#3431BD" fill-opacity="0.5"/><rect x="303.51" y="371.32" width="1.97" height="9.16" fill="#3431BD"/><rect x="317.12" y="513.53" width="2.67" height="19.32" fill="#3431BD" fill-opacity="0.5"/><rect x="317.47" y="513.53" width="1.97" height="19.32" fill="#3431BD"/><rect x="318.87" y="533.84" width="2.67" height="9.16" fill="#3431BD" fill-opacity="0.5"/><rect x="319.22" y="533.84" width="1.97" height="9.16" fill="#3431BD"/><rect x="629.44" y="483.05" width="2.67" height="9.16" fill="#3431BD" fill-opacity="0.5"/><rect x="629.79" y="483.05" width="1.97" height="9.16" fill="#3431BD"/><rect x="638.16" y="411.95" width="2.67" height="19.32" fill="#3431BD" fill-opacity="0.5"/><rect x="638.51" y="411.95" width="1.97" height="19.32" fill="#3431BD"/><rect x="655.61" y="493.21" width="2.67" height="9.16" fill="#3431BD" fill-opacity="0.5"/><rect x="655.96" y="493.21" width="1.97" height="9.16" fill="#3431BD"/><rect x="671.31" y="523.68" width="2.67" height="9.16" fill="#3431BD" fill-opacity="0.5"/><rect x="671.66" y="523.68" width="1.97" height="9.16" fill="#3431BD"/><rect x="256.05" y="513.53" width="2.67" height="19.32" fill="#6F2DA8" fill-opacity="0.5"/><rect x="256.40" y="513.53" width="1.97" height="19.32" fill="#6F2DA8"/><rect x="303.16" y="351.00" width="2.67" height="19.32" fill="#6F2DA8" fill-opacity="0.5"/><rect x="303.51" y="351.00" width="1.97" height="19.32" fill="#6F2DA8"/><rect x="444.49" y="503.37" width="2.67" height="9.16" fill="#6F2DA8" fill-opacity="0.5"/><rect x="444.84" y="503.37" width="1.97" height="9.16" fill="#6F2DA8"/><rect x="456.70" y="493.21" width="2.67" height="29.47" fill="#92268F" fill-opacity="0.5"/><rect x="457.05" y="493.21" width="1.97" height="29.47" fill="#92268F"/><rect x="463.68" y="533.84" width="2.67" height="9.16" fill="#92268F" fill-opacity="0.5"/><rect x="464.03" y="533.84" width="1.97" height="9.16" fill="#92268F"/><rect x="472.41" y="533.84" width="2.67" height="9.16" fill="#92268F" fill-opacity="0.5"/><rect x="472.76" y="533.84" width="1.97" height="9.16" fill="#92268F"/><rect x="479.39" y="533.84" width="2.67" height="9.16" fill="#92268F" fill-opacity="0.5"/><rect x="479.74" y="533.84" width="1.97" height="9.16" fill="#92268F"/><rect x="625.95" y="483.05" width="2.67" height="19.32" fill="#92268F" fill-opacity="0.5"/><rect x="626.30" y="483.05" width="1.97" height="19.32" fill="#92268F"/><rect x="629.44" y="462.74" width="2.67" height="19.32" fill="#92268F" fill-opacity="0.5"/><rect x="629.79" y="462.74" width="1.97" height="19.32" fill="#92268F"/><rect x="632.93" y="452.58" width="2.67" height="19.32" fill="#92268F" fill-opacity="0.5"/><rect x="633.28" y="452.58" width="1.97" height="19.32" fill="#92268F"/><rect x="636.42" y="330.68" width="2.67" height="110.74" fill="#92268F" fill-opacity="0.5"/><rect x="636.77" y="330.68" width="1.97" height="110.74" fill="#92268F"/><rect x="638.16" y="310.37" width="2.67" height="100.58" fill="#92268F" fill-opacity="0.5"/><rect x="638.51" y="310.37" width="1.97" height="100.58" fill="#92268F"/><rect x="639.91" y="279.89" width="2.67" height="242.79" fill="#92268F" fill-opacity="0.5"/><rect x="640.26" y="279.89" width="1.97" height="242.79" fill="#92268F"/><rect x="641.65" y="371.32" width="2.67" height="151.37" fill="#92268F" fill-opacity="0.5"/><rect x="642.00" y="371.32" width="1.97" height="151.37" fill="#92268F"/><rect x="643.40" y="401.79" width="2.67" height="120.89" fill="#92268F" fill-opacity="0.5"/><rect x="643.75" y="401.79" width="1.97" height="120.89" fill="#92268F"/><rect x="645.14" y="371.32" width="2.67" height="161.53" fill="#92268F" fill-opacity="0.5"/><rect x="645.49" y="371.32" width="1.97" height="161.53" fill="#92268F"/><rect x="646.89" y="401.79" width="2.67" height="120.89" fill="#92268F" fill-opacity="0.5"/><rect x="647.24" y="401.79" width="1.97" height="120.89" fill="#92268F"/><rect x="648.63" y="462.74" width="2.67" height="70.11" fill="#92268F" fill-opacity="0.5"/><rect x="648.98" y="462.74" width="1.97" height="70.11" fill="#92268F"/><rect x="650.38" y="472.89" width="2.67" height="39.63" fill="#92268F" fill-opacity="0.5"/><rect x="650.73" y="472.89" width="1.97" height="39.63" fill="#92268F"/><rect x="653.87" y="483.05" width="2.67" height="39.63" fill="#92268F" fill-opacity="0.5"/><rect x="654.22" y="483.05" width="1.97" height="39.63" fill="#92268F"/><rect x="655.61" y="472.89" width="2.67" height="19.32" fill="#92268F" fill-opacity="0.5"/><rect x="655.96" y="472.89" width="1.97" height="19.32" fill="#92268F"/><rect x="657.35" y="493.21" width="2.67" height="9.16" fill="#92268F" fill-opacity="0.5"/><rect x="657.70" y="493.21" width="1.97" height="9.16" fill="#92268F"/><rect x="659.10" y="472.89" width="2.67" height="29.47" fill="#92268F" fill-opacity="0.5"/><rect x="659.45" y="472.89" width="1.97" height="29.47" fill="#92268F"/><rect x="660.84" y="513.53" width="2.67" height="19.32" fill="#92268F" fill-opacity="0.5"/><rect x="661.19" y="513.53" width="1.97" height="19.32" fill="#92268F"/><rect x="662.59" y="503.37" width="2.67" height="29.47" fill="#92268F" fill-opacity="0.5"/><rect x="662.94" y="503.37" width="1.97" height="29.47" fill="#92268F"/><rect x="664.33" y="503.37" width="2.67" height="29.47" fill="#92268F" fill-opacity="0.5"/><rect x="664.68" y="503.37" width="1.97" height="29.47" fill="#92268F"/><rect x="666.08" y="513.53" width="2.67" height="9.16" fill="#92268F" fill-opacity="0.5"/><rect x="666.43" y="513.53" width="1.97" height="9.16" fill="#92268F"/><rect x="667.82" y="533.84" width="2.67" height="9.16" fill="#92268F" fill-opacity="0.5"/><rect x="668.17" y="533.84" width="1.97" height="9.16" fill="#92268F"/><rect x="669.57" y="533.84" width="2.67" height="9.16" fill="#92268F" fill-opacity="0.5"/><rect x="669.92" y="533.84" width="1.97" height="9.16" fill="#92268F"/><rect x="681.78" y="523.68" width="2.67" height="9.16" fill="#92268F" fill-opacity="0.5"/><rect x="682.13" y="523.68" width="1.97" height="9.16" fill="#92268F"/><rect x="683.53" y="523.68" width="2.67" height="9.16" fill="#92268F" fill-opacity="0.5"/><rect x="683.88" y="523.68" width="1.97" height="9.16" fill="#92268F"/><rect x="690.51" y="503.37" width="2.67" height="9.16" fill="#92268F" fill-opacity="0.5"/><rect x="690.86" y="503.37" width="1.97" height="9.16" fill="#92268F"/><rect x="692.25" y="513.53" width="2.67" height="9.16" fill="#92268F" fill-opacity="0.5"/><rect x="692.60" y="513.53" width="1.97" height="9.16" fill="#92268F"/><rect x="694.00" y="472.89" width="2.67" height="9.16" fill="#92268F" fill-opacity="0.5"/><rect x="694.35" y="472.89" width="1.97" height="9.16" fill="#92268F"/><rect x="695.74" y="452.58" width="2.67" height="39.63" fill="#92268F" fill-opacity="0.5"/><rect x="696.09" y="452.58" width="1.97" height="39.63" fill="#92268F"/><rect x="697.49" y="452.58" width="2.67" height="70.11" fill="#92268F" fill-opacity="0.5"/><rect x="697.84" y="452.58" width="1.97" height="70.11" fill="#92268F"/><rect x="699.23" y="462.74" width="2.67" height="39.63" fill="#92268F" fill-opacity="0.5"/><rect x="699.58" y="462.74" width="1.97" height="39.63" fill="#92268F"/><rect x="700.97" y="381.47" width="2.67" height="141.21" fill="#92268F" fill-opacity="0.5"/><rect x="701.32" y="381.47" width="1.97" height="141.21" fill="#92268F"/><rect x="702.72" y="401.79" width="2.67" height="110.74" fill="#92268F" fill-opacity="0.5"/><rect x="703.07" y="401.79" width="1.97" height="110.74" fill="#92268F"/><rect x="704.46" y="422.11" width="2.67" height="70.11" fill="#92268F" fill-opacity="0.5"/><rect x="704.81" y="422.11" width="1.97" height="70.11" fill="#92268F"/><rect x="706.21" y="462.74" width="2.67" height="39.63" fill="#92268F" fill-opacity="0.5"/><rect x="706.56" y="462.74" width="1.97" height="39.63" fill="#92268F"/><rect x="707.95" y="483.05" width="2.67" height="19.32" fill="#92268F" fill-opacity="0.5"/><rect x="708.30" y="483.05" width="1.97" height="19.32" fill="#92268F"/><rect x="709.70" y="472.89" width="2.67" height="29.47" fill="#92268F" fill-opacity="0.5"/><rect x="710.05" y="472.89" width="1.97" height="29.47" fill="#92268F"/><rect x="711.44" y="472.89" width="2.67" height="49.79" fill="#92268F" fill-opacity="0.5"/><rect x="711.79" y="472.89" width="1.97" height="49.79" fill="#92268F"/><rect x="713.19" y="452.58" width="2.67" height="19.32" fill="#92268F" fill-opacity="0.5"/><rect x="713.54" y="452.58" width="1.97" height="19.32" fill="#92268F"/><rect x="714.93" y="290.05" width="2.67" height="252.95" fill="#92268F" fill-opacity="0.5"/><rect x="715.28" y="290.05" width="1.97" height="252.95" fill="#92268F"/><rect x="716.68" y="310.37" width="2.67" height="232.63" fill="#92268F" fill-opacity="0.5"/><rect x="717.03" y="310.37" width="1.97" height="232.63" fill="#92268F"/><rect x="718.42" y="259.58" width="2.67" height="283.42" fill="#92268F" fill-opacity="0.5"/><rect x="718.77" y="259.58" width="1.97" height="283.42" fill="#92268F"/><rect x="720.17" y="158.00" width="2.67" height="385.00" fill="#92268F" fill-opacity="0.5"/><rect x="720.52" y="158.00" width="1.97" height="385.00" fill="#92268F"/><rect x="721.91" y="310.37" width="2.67" height="232.63" fill="#92268F" fill-opacity="0.5"/><rect x="722.26" y="310.37" width="1.97" height="232.63" fill="#92268F"/><rect x="723.66" y="218.95" width="2.67" height="324.05" fill="#92268F" fill-opacity="0.5"/><rect x="724.01" y="218.95" width="1.97" height="324.05" fill="#92268F"/><rect x="725.40" y="269.74" width="2.67" height="273.26" fill="#92268F" fill-opacity="0.5"/><rect x="725.75" y="269.74" width="1.97" height="273.26" fill="#92268F"/><rect x="727.15" y="218.95" width="2.67" height="324.05" fill="#92268F" fill-opacity="0.5"/><rect x="727.50" y="218.95" width="1.97" height="324.05" fill="#92268F"/><rect x="728.89" y="411.95" width="2.67" height="131.05" fill="#92268F" fill-opacity="0.5"/><rect x="729.24" y="411.95" width="1.97" height="131.05" fill="#92268F"/><rect x="730.64" y="259.58" width="2.67" height="283.42" fill="#92268F" fill-opacity="0.5"/><rect x="730.99" y="259.58" width="1.97" height="283.42" fill="#92268F"/><rect x="732.38" y="300.21" width="2.67" height="242.79" fill="#92268F" fill-opacity="0.5"/><rect x="732.73" y="300.21" width="1.97" height="242.79" fill="#92268F"/><rect x="734.13" y="401.79" width="2.67" height="141.21" fill="#92268F" fill-opacity="0.5"/><rect x="734.48" y="401.79" width="1.97" height="141.21" fill="#92268F"/><rect x="735.87" y="432.26" width="2.67" height="110.74" fill="#92268F" fill-opacity="0.5"/><rect x="736.22" y="432.26" width="1.97" height="110.74" fill="#92268F"/><rect x="737.62" y="381.47" width="2.67" height="161.53" fill="#92268F" fill-opacity="0.5"/><rect x="737.97" y="381.47" width="1.97" height="161.53" fill="#92268F"/><rect x="739.36" y="320.53" width="2.67" height="222.47" fill="#92268F" fill-opacity="0.5"/><rect x="739.71" y="320.53" width="1.97" height="222.47" fill="#92268F"/><rect x="741.10" y="371.32" width="2.67" height="171.68" fill="#92268F" fill-opacity="0.5"/><rect x="741.45" y="371.32" width="1.97" height="171.68" fill="#92268F"/><rect x="742.85" y="290.05" width="2.67" height="252.95" fill="#92268F" fill-opacity="0.5"/><rect x="743.20" y="290.05" width="1.97" height="252.95" fill="#92268F"/><rect x="744.59" y="361.16" width="2.67" height="181.84" fill="#92268F" fill-opacity="0.5"/><rect x="744.94" y="361.16" width="1.97" height="181.84" fill="#92268F"/><rect x="746.34" y="320.53" width="2.67" height="222.47" fill="#92268F" fill-opacity="0.5"/><rect x="746.69" y="320.53" width="1.97" height="222.47" fill="#92268F"/><rect x="748.08" y="452.58" width="2.67" height="90.42" fill="#92268F" fill-opacity="0.5"/><rect x="748.43" y="452.58" width="1.97" height="90.42" fill="#92268F"/><rect x="749.83" y="483.05" width="2.67" height="59.95" fill="#92268F" fill-opacity="0.5"/><rect x="750.18" y="483.05" width="1.97" height="59.95" fill="#92268F"/><rect x="751.57" y="462.74" width="2.67" height="80.26" fill="#92268F" fill-opacity="0.5"/><rect x="751.92" y="462.74" width="1.97" height="80.26" fill="#92268F"/><rect x="753.32" y="391.63" width="2.67" height="151.37" fill="#92268F" fill-opacity="0.5"/><rect x="753.67" y="391.63" width="1.97" height="151.37" fill="#92268F"/><rect x="755.06" y="533.84" width="2.67" height="9.16" fill="#92268F" fill-opacity="0.5"/><rect x="755.41" y="533.84" width="1.97" height="9.16" fill="#92268F"/><rect x="756.81" y="472.89" width="2.67" height="70.11" fill="#92268F" fill-opacity="0.5"/><rect x="757.16" y="472.89" width="1.97" height="70.11" fill="#92268F"/><rect x="758.55" y="381.47" width="2.67" height="161.53" fill="#92268F" fill-opacity="0.5"/><rect x="758.90" y="381.47" width="1.97" height="161.53" fill="#92268F"/><rect x="762.04" y="523.68" width="2.67" height="19.32" fill="#92268F" fill-opacity="0.5"/><rect x="762.39" y="523.68" width="1.97" height="19.32" fill="#92268F"/></g>
<text x="202.80" y="576.30" font-family='"DejaVu Sans Mono","Liberation Mono",monospace' font-size="19.65" textLength="44.40" lengthAdjust="spacingAndGlyphs" fill="#fff" stroke="#fff" stroke-width="0.2">3/30</text>
<text x="289.80" y="576.30" font-family='"DejaVu Sans Mono","Liberation Mono",monospace' font-size="19.65" textLength="44.40" lengthAdjust="spacingAndGlyphs" fill="#fff" stroke="#fff" stroke-width="0.2">5/19</text>
<text x="426.35" y="576.30" font-family='"DejaVu Sans Mono","Liberation Mono",monospace' font-size="19.65" textLength="33.30" lengthAdjust="spacingAndGlyphs" fill="#fff" stroke="#fff" stroke-width="0.2">8/2</text>
<text x="546.25" y="576.30" font-family='"DejaVu Sans Mono","Liberation Mono",monospace' font-size="19.65" textLength="55.50" lengthAdjust="spacingAndGlyphs" fill="#fff" stroke="#fff" stroke-width="0.2">10/16</text>
<text x="638.80" y="576.30" font-family='"DejaVu Sans Mono","Liberation Mono",monospace' font-size="19.65" textLength="44.40" lengthAdjust="spacingAndGlyphs" fill="#fff" stroke="#fff" stroke-width="0.2">12/5</text>
<text x="678.75" y="576.30" font-family='"DejaVu Sans Mono","Liberation Mono",monospace' font-size="19.65" textLength="55.50" lengthAdjust="spacingAndGlyphs" fill="#fff" stroke="#fff" stroke-width="0.2">12/30</text>
<text x="745.85" y="576.30" font-family='"DejaVu Sans Mono","Liberation Mono",monospace' font-size="19.65" textLength="33.30" lengthAdjust="spacingAndGlyphs" fill="#fff" stroke="#fff" stroke-width="0.2">2/1</text>
</svg>
</body></html>
